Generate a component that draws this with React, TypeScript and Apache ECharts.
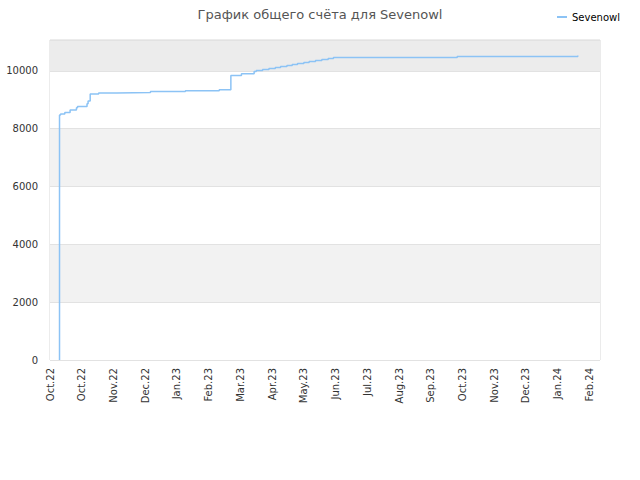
import React, { useEffect, useRef } from "react";
import * as echarts from "echarts";

// chart data: dates when the score changed and the score from that date on
const dates: string[] = [
  "2022-10-10", "2022-10-10", "2022-10-11", "2022-10-15", "2022-10-20",
  "2022-10-26", "2022-10-27", "2022-11-05", "2022-11-06", "2022-11-08",
  "2022-11-16", "2022-12-03", "2023-01-04", "2023-02-06", "2023-03-10",
  "2023-03-21", "2023-03-31", "2023-04-12", "2023-04-14", "2023-04-20",
  "2023-04-26", "2023-05-02", "2023-05-07", "2023-05-13", "2023-05-18",
  "2023-05-23", "2023-05-29", "2023-06-03", "2023-06-09", "2023-06-15",
  "2023-06-21", "2023-06-26", "2023-10-21", "2024-02-12",
];
const scores: number[] = [
  0, 8475, 8510, 8565, 8648,
  8727, 8772, 8865, 8960, 9200,
  9235, 9255, 9290, 9315, 9350,
  9845, 9903, 9983, 10017, 10052,
  10086, 10121, 10155, 10190, 10225,
  10259, 10294, 10328, 10363, 10398,
  10432, 10467, 10502, 10530,
];
const monthNames: string[] = [
  "Jan", "Feb", "Mar", "Apr", "May", "Jun",
  "Jul", "Aug", "Sep", "Oct", "Nov", "Dec",
];

const startDate = "2022-10-01"; // left edge of the x axis
const dayMs = 24 * 3600 * 1000;
const toDay = (d: string) =>
  Math.round((Date.parse(d) - Date.parse(startDate)) / dayMs);

const App: React.FC = () => {
  const chartRef = useRef<HTMLDivElement | null>(null);

  useEffect(() => {
    if (!chartRef.current) return;
    const myChart = echarts.init(chartRef.current, undefined, { renderer: "svg" });

    const font = "DejaVu Sans";
    const option: echarts.EChartsOption = {
      animation: false,
      textStyle: { fontFamily: font },
      title: {
        text: "График общего счёта для Sevenowl",
        left: "center",
        top: 3,
        textStyle: { fontSize: 13, fontWeight: "normal", color: "#555", fontFamily: font },
      },
      legend: {
        right: 15,
        top: 7,
        icon: "rect",
        itemWidth: 10,
        itemHeight: 2,
        itemGap: 10,
        textStyle: { fontSize: 10, color: "#000", fontFamily: font },
        data: ["Sevenowl"],
      },
      grid: {
        left: 50,
        right: 40,
        top: 40,
        bottom: 120,
        show: true,
        borderColor: "#d8d8d8",
        borderWidth: 1,
        containLabel: false,
      },
      xAxis: {
        type: "value",
        min: 0,
        max: 520,
        interval: 30,
        axisLine: { show: false },
        axisTick: { show: false },
        splitLine: { show: false },
        axisLabel: {
          rotate: 90,
          fontSize: 10,
          color: "#333",
          margin: 8,
          fontFamily: font,
          formatter: (v: number) => {
            if (v % 30 !== 0) return "";
            const d = new Date(Date.parse(startDate) + v * dayMs);
            return monthNames[d.getUTCMonth()] + "." + String(d.getUTCFullYear()).slice(2);
          },
        },
      },
      yAxis: {
        type: "value",
        min: 0,
        max: 11070,
        interval: 2000,
        axisLine: { show: false },
        axisTick: { show: false },
        splitLine: { show: true, lineStyle: { color: "#e2e2e2" } },
        splitArea: {
          show: true,
          areaStyle: {
            color: ["#ffffff", "#f2f2f2", "#ffffff", "#f2f2f2", "#ffffff", "#ececec"],
          },
        },
        axisLabel: {
          fontSize: 10,
          color: "#333",
          margin: 12,
          fontFamily: font,
          formatter: (v: number) => (v % 2000 === 0 ? String(v) : ""),
        },
      },
      series: [
        {
          name: "Sevenowl",
          type: "line",
          step: "end",
          symbol: "none",
          lineStyle: { color: "#8cc3f5", width: 1.5 },
          itemStyle: { color: "#8cc3f5" },
          data: dates.map((d, i) => [toDay(d), scores[i]]),
        },
      ],
    };

    myChart.setOption(option);
    return () => {
      myChart.dispose();
    };
  }, []);

  return (
    <div
      ref={chartRef}
      style={{ position: "fixed", left: 0, top: 0, width: "640px", height: "480px", background: "#fff" }}
    />
  );
};

export default App;
